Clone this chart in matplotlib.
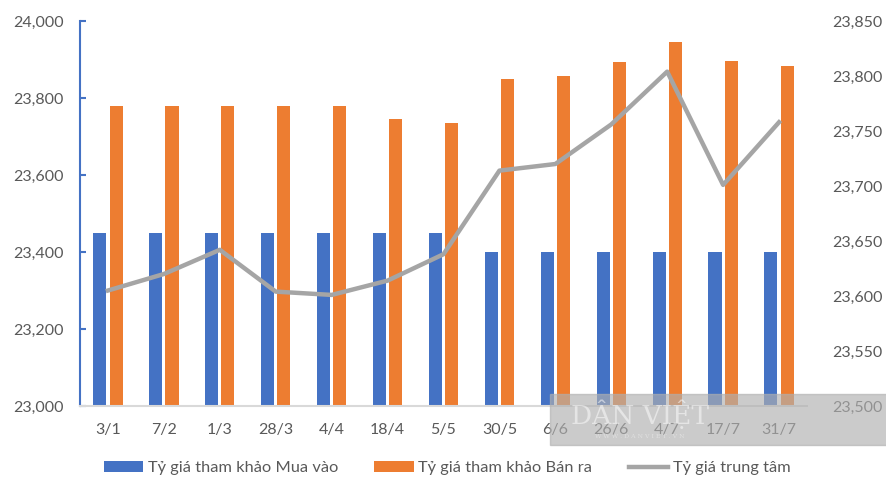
import matplotlib.pyplot as plt
import matplotlib.patches as mpatches
import numpy as np

plt.rcParams['font.family'] = ['Lato', 'DejaVu Sans']

dates = ["3/1", "7/2", "1/3", "28/3", "4/4", "18/4", "5/5", "30/5", "6/6", "26/6", "4/7", "17/7", "31/7"]
mua_vao = [23450, 23450, 23450, 23450, 23450, 23450, 23450, 23400, 23400, 23400, 23400, 23400, 23400]
ban_ra = [23780, 23780, 23780, 23780, 23780, 23745, 23735, 23850, 23856, 23893, 23945, 23895, 23882]
trung_tam = [23605, 23620, 23642, 23604, 23601, 23614, 23638, 23714, 23720, 23756, 23804, 23701, 23758]

blue = "#4472C4"
orange = "#ED7D31"
grey = "#A5A5A5"
txt = "#595959"

fig = plt.figure(figsize=(8.87, 4.98), dpi=100)
ax = fig.add_axes([0.0902, 0.1847, 0.8196, 0.7731])
x = np.arange(len(dates))
w = 0.235
ax.bar(x - 0.145, mua_vao, w, color=blue, label="Tỷ giá tham khảo Mua vào", zorder=2)
ax.bar(x + 0.145, ban_ra, w, color=orange, label="Tỷ giá tham khảo Bán ra", zorder=2)
ax.set_ylim(23000, 24000)
ax.set_yticks(range(23000, 24001, 200))
ax.set_yticklabels([f"{v:,}" for v in range(23000, 24001, 200)])
ax.set_xlim(-0.5, len(dates) - 0.5)
ax.set_xticks(x)
ax.set_xticklabels(dates)
for s in ["top", "right"]:
    ax.spines[s].set_visible(False)
ax.spines["left"].set_color(blue)
ax.spines["left"].set_linewidth(1.5)
ax.spines["bottom"].set_color("#D9D9D9")
ax.spines["bottom"].set_linewidth(1.5)
ax.tick_params(axis="y", direction="in", length=4, width=1.5, color=blue, labelcolor=txt, labelsize=11.5, pad=12)
ax.tick_params(axis="x", length=0, labelcolor=txt, labelsize=11.5, pad=12)

ax2 = ax.twinx()
ax2.plot(x, trung_tam, color=grey, lw=3.2, label="Tỷ giá trung tâm", solid_joinstyle="round")
ax2.set_ylim(23500, 23850)
ax2.set_yticks(range(23500, 23851, 50))
ax2.set_yticklabels([f"{v:,}" for v in range(23500, 23851, 50)])
for s in ax2.spines.values():
    s.set_visible(False)
ax2.tick_params(axis="y", length=0, labelcolor=txt, labelsize=11.5, pad=18)

h1, l1 = ax.get_legend_handles_labels()
h2, l2 = ax2.get_legend_handles_labels()
fig.legend(h1 + h2, l1 + l2, loc="center", bbox_to_anchor=(0.504, 0.06), ncol=3, frameon=False,
           fontsize=11.8, labelcolor=txt, handlelength=2.4, handleheight=0.6, handletextpad=0.3,
           columnspacing=2.2)

# watermark
fig.patches.append(mpatches.Rectangle((550 / 887, 1 - 445 / 498), 337 / 887, 51 / 498,
                                      transform=fig.transFigure, color="#B0B0B0", alpha=0.65, zorder=5))
fig.text(640 / 887, 1 - 414 / 498, "DÂN VIỆT", family="DejaVu Serif", fontsize=19, color="white",
         alpha=0.5, ha="center", va="center", zorder=6)
fig.text(640 / 887, 1 - 436 / 498, "W W W . D A N V I E T . V N", family="DejaVu Serif", fontsize=4.5,
         color="white", alpha=0.4, ha="center", va="center", zorder=6)

fig.savefig("out.png", dpi=100)
